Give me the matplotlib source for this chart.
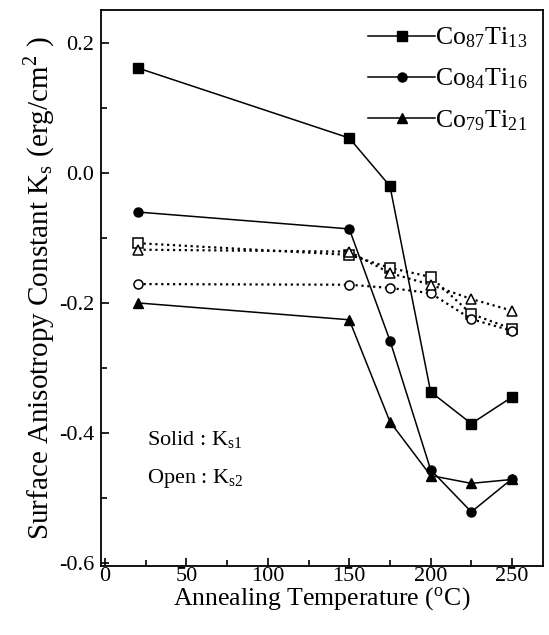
import numpy as np
import matplotlib
matplotlib.use('Agg')
import matplotlib.pyplot as plt
from matplotlib.ticker import MultipleLocator

plt.rcParams['font.family'] = ['Liberation Serif', 'DejaVu Serif']
plt.rcParams['mathtext.fontset'] = 'stix'

temps = [20, 150, 175, 200, 225, 250]

# solid: Ks1
ks1_87 = [0.162, 0.054, -0.02, -0.337, -0.386, -0.345]
ks1_84 = [-0.06, -0.086, -0.258, -0.457, -0.522, -0.471]
ks1_79 = [-0.20, -0.226, -0.383, -0.466, -0.478, -0.472]

# open: Ks2
ks2_87 = [-0.108, -0.126, -0.146, -0.16, -0.217, -0.24]
ks2_84 = [-0.171, -0.172, -0.177, -0.185, -0.225, -0.243]
ks2_79 = [-0.118, -0.121, -0.154, -0.172, -0.194, -0.212]

labels = [r'Co$_{\mathregular{87}}$Ti$_{\mathregular{13}}$',
          r'Co$_{\mathregular{84}}$Ti$_{\mathregular{16}}$',
          r'Co$_{\mathregular{79}}$Ti$_{\mathregular{21}}$']
markers = ['s', 'o', '^']

fig = plt.figure(figsize=(5.49, 6.35), dpi=100)
ax = fig.add_axes([0.184, 0.109, 0.805, 0.875])

for ks1, ks2, m, lab in zip([ks1_87, ks1_84, ks1_79], [ks2_87, ks2_84, ks2_79], markers, labels):
	ax.plot(temps, ks1, '-', color='black', lw=1.1, marker=m, ms=6.5, label=lab)
	ax.plot(temps, ks2, ':', color='black', lw=1.6, marker=m, ms=6.5,
		mfc='white', mec='black', mew=1.1)

ax.set_xlim(-2.5, 269)
ax.set_ylim(-0.605, 0.251)
ax.xaxis.set_major_locator(MultipleLocator(50))
ax.xaxis.set_minor_locator(MultipleLocator(25))
ax.yaxis.set_major_locator(MultipleLocator(0.2))
ax.yaxis.set_minor_locator(MultipleLocator(0.1))
ax.yaxis.set_major_formatter(matplotlib.ticker.FormatStrFormatter('%.1f'))
ax.tick_params(which='both', direction='in', labelsize=16, width=1.2)
ax.tick_params(which='major', length=6, pad=5)
ax.tick_params(axis='x', which='major', pad=1)
ax.tick_params(which='minor', length=4)
for s in ax.spines.values():
	s.set_linewidth(1.3)

ax.set_xlabel(r'Annealing Temperature ($^{\mathregular{o}}$C)', fontsize=18.5, labelpad=0)
ax.set_ylabel(r'Surface Anisotropy Constant K$_{\mathregular{s}}$ (erg/cm$^{\mathregular{2}}$ )',
	fontsize=21, labelpad=1)

ax.text(26, -0.41, r'Solid : K$_{\mathregular{s1}}$', fontsize=16, va='center')
ax.text(26, -0.47, r'Open : K$_{\mathregular{s2}}$', fontsize=16, va='center')

ax.legend(loc='upper right', frameon=False, fontsize=18.5, handlelength=2.6,
	handletextpad=0.0, labelspacing=0.65, borderaxespad=0.2)

fig.savefig('out.png', dpi=100)
